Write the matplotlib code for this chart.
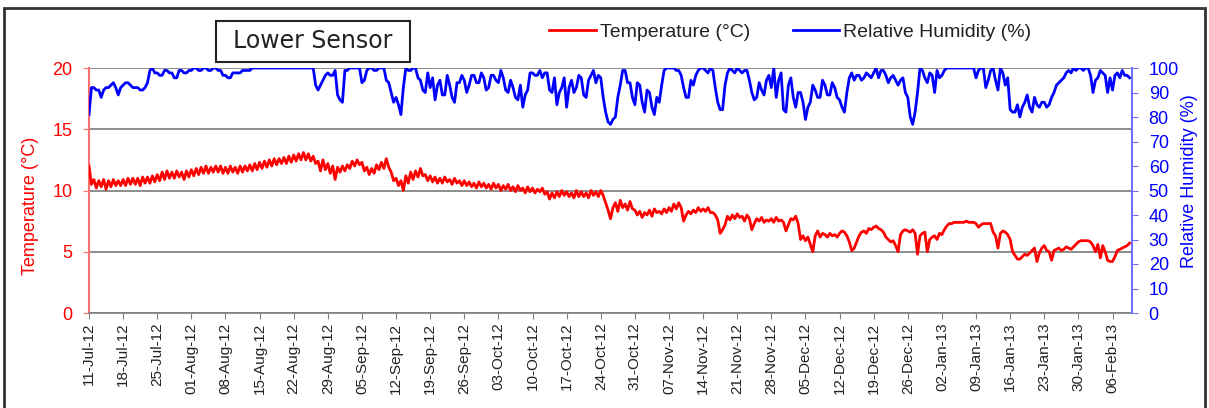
import numpy as np
import pandas as pd
import matplotlib as mpl
import matplotlib.pyplot as plt
import matplotlib.dates as mdates
from matplotlib.patches import Rectangle

# temperature (deg C), two readings per day from 11-Jul-12
temp = [
    12.0, 10.5, 10.9, 10.2, 10.8, 10.3, 10.9, 10.1, 10.8, 10.3, 10.9, 10.4, 10.8, 10.4,
    10.9, 10.4, 11.0, 10.5, 11.0, 10.5, 11.0, 10.4, 11.1, 10.6, 11.1, 10.6, 11.2, 10.7,
    11.3, 10.8, 11.5, 10.9, 11.6, 11.0, 11.5, 11.0, 11.6, 11.1, 11.5, 10.9, 11.6, 11.1,
    11.7, 11.2, 11.8, 11.3, 11.9, 11.4, 12.0, 11.4, 11.9, 11.5, 12.0, 11.5, 12.0, 11.4,
    11.9, 11.4, 12.0, 11.5, 11.9, 11.4, 12.0, 11.5, 12.0, 11.6, 12.1, 11.6, 12.2, 11.7,
    12.3, 11.8, 12.4, 11.9, 12.5, 12.0, 12.6, 12.1, 12.6, 12.2, 12.7, 12.2, 12.8, 12.3,
    12.9, 12.4, 13.0, 12.5, 13.1, 12.5, 13.0, 12.4, 12.8, 12.2, 12.4, 11.6, 12.5, 11.7,
    12.2, 11.4, 12.0, 10.9, 11.9, 11.5, 12.0, 11.6, 12.1, 11.8, 12.4, 12.0, 12.5, 12.1,
    12.3, 11.6, 11.9, 11.3, 11.8, 11.4, 12.1, 11.7, 12.3, 11.8, 12.6, 11.9, 11.5, 10.8,
    11.0, 10.4, 10.8, 10.0, 11.2, 10.6, 11.5, 10.9, 11.6, 11.1, 11.8, 11.2, 11.3, 10.8,
    11.2, 10.7, 11.1, 10.6, 11.0, 10.6, 11.1, 10.7, 10.9, 10.5, 11.0, 10.6, 10.8, 10.4,
    10.8, 10.4, 10.7, 10.3, 10.6, 10.2, 10.7, 10.3, 10.6, 10.2, 10.5, 10.1, 10.6, 10.2,
    10.5, 10.0, 10.4, 10.1, 10.5, 10.0, 10.3, 9.9, 10.4, 10.0, 10.2, 9.8, 10.3, 9.9,
    10.2, 9.8, 10.1, 9.9, 10.2, 9.7, 9.9, 9.3, 9.8, 9.4, 9.9, 9.5, 10.0, 9.6,
    9.9, 9.5, 9.8, 9.4, 10.0, 9.5, 9.9, 9.5, 9.8, 9.4, 10.0, 9.6, 9.9, 9.5,
    10.0, 9.6, 9.0, 8.4, 7.7, 8.6, 9.0, 8.3, 9.2, 8.6, 8.9, 8.4, 9.1, 8.5,
    8.4, 8.0, 8.3, 7.8, 8.2, 8.0, 8.4, 7.9, 8.5, 8.2, 8.3, 8.1, 8.5, 8.2,
    8.6, 8.3, 8.9, 8.5, 9.0, 8.6, 7.5, 8.0, 8.3, 8.1, 8.4, 8.2, 8.6, 8.3,
    8.5, 8.3, 8.6, 8.2, 8.2, 8.0, 7.6, 6.5, 6.8, 7.2, 7.9, 7.6, 8.0, 7.7,
    8.1, 7.8, 7.9, 7.5, 8.0, 7.7, 6.8, 7.3, 7.7, 7.5, 7.8, 7.4, 7.6, 7.5,
    7.7, 7.4, 7.8, 7.5, 7.6, 7.4, 6.7, 7.2, 7.7, 7.6, 7.9, 7.3, 6.0, 6.3,
    5.9, 6.2, 5.6, 5.0, 6.3, 6.7, 6.2, 6.5, 6.4, 6.2, 6.5, 6.3, 6.4, 6.2,
    6.5, 6.7, 6.6, 6.3, 5.8, 5.1, 5.3, 5.8, 6.3, 6.6, 6.7, 6.5, 6.9, 6.8,
    7.0, 7.1, 6.9, 6.8, 6.6, 6.2, 6.0, 5.8, 5.9, 5.5, 5.0, 6.4, 6.7, 6.8,
    6.7, 6.6, 6.8, 6.5, 4.8, 6.3, 6.5, 6.6, 5.0, 6.0, 6.2, 6.3, 6.0, 6.5,
    6.4, 6.8, 7.1, 7.3, 7.3, 7.4, 7.4, 7.4, 7.4, 7.4, 7.5, 7.4, 7.4, 7.4,
    7.3, 7.0, 7.2, 7.3, 7.3, 7.3, 7.3, 6.6, 6.3, 5.3, 6.5, 6.7, 6.6, 6.4,
    6.0, 5.0, 4.7, 4.4, 4.4, 4.6, 4.8, 4.7, 4.9, 5.1, 5.3, 4.2, 4.9, 5.3,
    5.5, 5.1, 5.0, 4.3, 5.1, 5.2, 5.3, 5.1, 5.2, 5.4, 5.3, 5.2, 5.4, 5.6,
    5.8, 5.9, 5.9, 5.9, 5.9, 5.8, 5.5, 5.0, 5.6, 4.5, 5.5, 5.0, 4.3, 4.2,
    4.2, 4.6, 5.1, 5.2, 5.3, 5.4, 5.5, 5.7,
]

# relative humidity (%), two readings per day from 11-Jul-12
rh = [
    81, 92, 92, 91, 91, 88, 91, 92, 92, 93, 94, 92, 89, 92,
    93, 94, 94, 93, 92, 92, 92, 91, 91, 92, 94, 99, 100, 98,
    98, 97, 97, 99, 99, 98, 98, 96, 96, 99, 99, 98, 98, 99,
    99, 100, 100, 99, 99, 100, 100, 99, 99, 100, 100, 99, 99, 97,
    97, 96, 96, 98, 98, 98, 98, 99, 99, 99, 99, 100, 100, 100,
    100, 100, 100, 100, 100, 100, 100, 100, 100, 100, 100, 100, 100, 100,
    100, 100, 100, 100, 100, 100, 100, 100, 100, 93, 91, 93, 95, 97,
    98, 97, 97, 99, 89, 87, 86, 99, 99, 100, 100, 100, 100, 100,
    94, 95, 99, 100, 100, 99, 99, 100, 100, 100, 95, 94, 90, 86,
    88, 85, 81, 92, 100, 99, 99, 100, 100, 96, 95, 91, 90, 98,
    92, 96, 87, 93, 95, 89, 89, 97, 93, 88, 86, 94, 94, 97,
    95, 90, 93, 97, 97, 94, 94, 98, 96, 91, 92, 97, 97, 95,
    94, 99, 96, 91, 90, 95, 92, 88, 87, 93, 84, 89, 91, 98,
    98, 97, 97, 99, 96, 98, 98, 91, 90, 96, 85, 90, 92, 96,
    84, 92, 95, 90, 92, 97, 96, 89, 88, 95, 97, 99, 94, 97,
    96, 88, 82, 78, 77, 79, 80, 88, 93, 99, 99, 94, 94, 88,
    85, 94, 93, 86, 82, 91, 90, 84, 81, 88, 86, 93, 99, 100,
    100, 100, 100, 99, 99, 97, 92, 88, 88, 95, 93, 97, 99, 100,
    100, 99, 98, 100, 99, 92, 86, 83, 83, 93, 98, 100, 99, 98,
    100, 99, 98, 99, 99, 95, 90, 87, 88, 94, 91, 89, 95, 97,
    92, 100, 88, 95, 98, 83, 82, 93, 96, 88, 84, 90, 90, 86,
    79, 84, 86, 93, 91, 88, 88, 95, 93, 89, 89, 94, 92, 88,
    87, 84, 82, 90, 96, 98, 95, 97, 97, 95, 96, 98, 97, 96,
    98, 100, 96, 99, 99, 97, 94, 96, 97, 95, 93, 95, 96, 90,
    88, 80, 77, 82, 90, 100, 99, 96, 94, 98, 97, 90, 99, 96,
    97, 99, 100, 100, 100, 100, 100, 100, 100, 100, 100, 100, 100, 100,
    96, 99, 100, 100, 92, 95, 99, 100, 95, 91, 100, 98, 93, 96,
    83, 82, 82, 85, 80, 84, 86, 89, 84, 82, 88, 85, 84, 86,
    86, 84, 85, 88, 90, 93, 94, 95, 96, 98, 99, 98, 100, 99,
    100, 100, 99, 100, 100, 97, 90, 95, 96, 99, 98, 97, 90, 96,
    91, 97, 98, 96, 99, 97, 97, 96,
]

start = '2012-07-11'
end = '2013-02-10'
t_temp = pd.date_range(start, periods=len(temp), freq='12h')
t_rh = pd.date_range(start, periods=len(rh), freq='12h')
week_ticks = pd.date_range(start, '2013-02-06', freq='7D')

mpl.rcParams['font.family'] = ['Liberation Sans', 'DejaVu Sans']

W, H = 1209, 408
fig = plt.figure(figsize=(W / 100, H / 100), dpi=100)
ax = fig.add_axes([89 / W, 1 - 313 / H, (1132 - 89) / W, (313 - 68) / H])
ax2 = ax.twinx()

ax.plot(t_temp, temp, color='#ff0000', lw=2.0, label='Temperature (°C)', zorder=3)
ax2.plot(t_rh, rh, color='#0000ff', lw=2.0, label='Relative Humidity (%)', zorder=3)

ax.set_xlim(pd.Timestamp(start), pd.Timestamp(end))
ax.set_ylim(0, 20)
ax.set_yticks(np.arange(0, 21, 5))
ax2.set_ylim(0, 100)
ax2.set_yticks(np.arange(0, 101, 10))

ax.set_xticks(week_ticks)
ax.xaxis.set_major_formatter(mdates.DateFormatter('%d-%b-%y'))
ax.tick_params(axis='x', rotation=90, labelsize=11, labelcolor='#222222',
               length=4, color='#808080', pad=3)
ax.tick_params(axis='y', labelsize=13, labelcolor='#ff0000', length=4,
               color='#ff7070', pad=8)
ax2.tick_params(axis='y', labelsize=13, labelcolor='#0000ff', length=4,
                color='#7070ff', pad=8)

ax.grid(axis='y', color='#7a7a7a', lw=1.2)
ax.set_axisbelow(True)

for s in ['top', 'right']:
    ax.spines[s].set_visible(False)
for s in ['top', 'left', 'bottom']:
    ax2.spines[s].set_visible(False)
ax.spines['left'].set_color('#ff7070')
ax.spines['left'].set_linewidth(1.5)
ax.spines['bottom'].set_color('#808080')
ax.spines['bottom'].set_linewidth(1.2)
ax2.spines['right'].set_color('#7070ff')
ax2.spines['right'].set_linewidth(1.5)

ax.set_ylabel('Temperature (°C)', color='#ff0000', fontsize=13)
ax.yaxis.set_label_coords(-0.048, 0.437)
ax2.set_ylabel('Relative Humidity (%)', color='#0000ff', fontsize=13)
ax2.yaxis.set_label_coords(1.047, 0.537)

# legend
h1, l1 = ax.get_legend_handles_labels()
h2, l2 = ax2.get_legend_handles_labels()
fig.legend(h1 + h2, l1 + l2, loc='center left', bbox_to_anchor=(549 / W, 1 - 32 / H),
           ncol=2, frameon=False, fontsize=14, handlelength=2.4, handletextpad=0.2,
           columnspacing=2.2, borderpad=0, borderaxespad=0, labelcolor='#222222')

# title box
fig.patches.append(Rectangle((216 / W, 1 - 62 / H), 194 / W, 41 / H, transform=fig.transFigure,
                             fill=False, ec='#222222', lw=1.5))
fig.text(313 / W, 1 - 41.5 / H, 'Lower Sensor', ha='center', va='center', fontsize=17,
         family='DejaVu Sans', color='#222222')

# outer frame
fig.patches.append(Rectangle((4 / W, -0.1), 1201 / W, 1 - 8 / H + 0.1, transform=fig.transFigure,
                             fill=False, ec='#333333', lw=2))

plt.savefig('out.png', dpi=100)
